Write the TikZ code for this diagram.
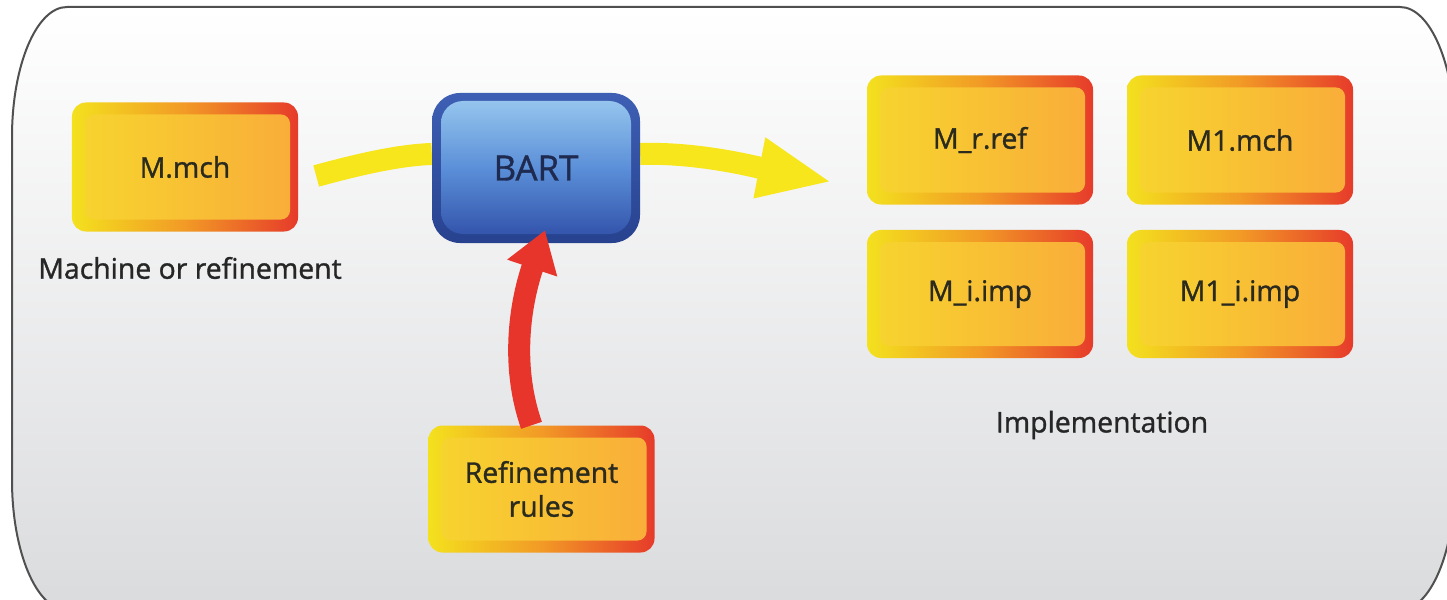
\documentclass[tikz,border=0pt]{standalone}
\usepackage{fontspec}
\setmainfont{Open Sans}
\newfontfamily\boxfont{Open Sans}[FakeBold=1.2]
\usetikzlibrary{arrows.meta,calc}
\definecolor{byel}{HTML}{F3E11E}
\definecolor{borg}{HTML}{F29A26}
\definecolor{bred}{HTML}{E63B2A}
\definecolor{iyel}{HTML}{F7D62E}
\definecolor{iorg}{HTML}{F9AC3A}
\definecolor{txt}{HTML}{2A2A1E}
\definecolor{bluetop}{HTML}{9CCBF0}
\definecolor{bluemid}{HTML}{5B8FD8}
\definecolor{bluebot}{HTML}{2E4DA6}
\definecolor{blueedge}{HTML}{3E5FB4}
\definecolor{bluedark}{HTML}{27428F}
\definecolor{barttxt}{HTML}{1E2A50}
\definecolor{yarrow}{HTML}{F7E61B}
\definecolor{rarrow}{HTML}{E8352C}
\definecolor{bgg}{HTML}{DADBDD}
\definecolor{frame}{HTML}{505050}
\definecolor{lbltxt}{HTML}{262626}
\pgfdeclarelayer{bg}
\pgfdeclarelayer{arr}
\pgfsetlayers{bg,arr,main}
\tikzset{
  filebox/.style={minimum width=226bp, minimum height=129bp, inner sep=0pt,
    rounded corners=14bp, left color=byel, right color=bred, middle color=borg,
    text=txt, font=\boxfont\fontsize{28.5}{36}\selectfont, align=center,
    path picture={\shade[rounded corners=9bp, left color=iyel, right color=iorg]
      ([shift={(13bp,-12bp)}]path picture bounding box.north west) rectangle
      ([shift={(-8bp,12bp)}]path picture bounding box.south east);}},
  bartbox/.style={minimum width=208bp, minimum height=150bp, inner sep=0pt,
    rounded corners=28bp, top color=blueedge, bottom color=bluedark,
    text=barttxt, font=\boxfont\fontsize{35}{40}\selectfont,
    path picture={\shade[rounded corners=22bp, top color=bluetop, bottom color=bluebot, middle color=bluemid]
      ([shift={(9bp,-8bp)}]path picture bounding box.north west) rectangle
      ([shift={(-9bp,9bp)}]path picture bounding box.south east);}},
  lbl/.style={text=lbltxt, font=\boxfont\fontsize{28.5}{34}\selectfont, inner sep=0pt},
  yband/.style={draw=yarrow, line width=22bp},
  rband/.style={draw=rarrow, line width=22bp},
}
\begin{document}
\begin{tikzpicture}[x=1bp,y=-1bp]
\useasboundingbox (0,0) rectangle (1447,600);
\begin{pgfonlayer}{bg}
\begin{scope}
\clip (0,0) rectangle (1447,600);
\path[fill=white] (0,0) rectangle (1447,600);
\path[top color=white, middle color=white, bottom color=bgg]
  (12,137) .. controls (12,65.2) and (36.6,7) .. (67,7) -- (1400,7)
  .. controls (1430.4,7) and (1455,65.2) .. (1455,137) -- (1455,480)
  .. controls (1455,551.8) and (1430.4,610) .. (1400,610) -- (67,610)
  .. controls (36.6,610) and (12,551.8) .. (12,480) -- cycle;
\draw[frame, line width=2bp]
  (12,137) .. controls (12,65.2) and (36.6,7) .. (67,7) -- (1400,7)
  .. controls (1430.4,7) and (1455,65.2) .. (1455,137) -- (1455,480)
  .. controls (1455,551.8) and (1430.4,610) .. (1400,610) -- (67,610)
  .. controls (36.6,610) and (12,551.8) .. (12,480) -- cycle;
\end{scope}
\end{pgfonlayer}

\node[filebox] (mmch) at (185,167) {M.mch};
\node[bartbox] (bart) at (536,168) {BART};
\node[filebox, minimum height=127bp] (ref) at (541.5,489) {Refinement\\[-2bp]rules};
\node[filebox] (mrref) at (980,140) {M\_r.ref};
\node[filebox] (m1mch) at (1240,140) {M1.mch};
\node[filebox, minimum height=128bp] (miimp) at (980,294) {M\_i.imp};
\node[filebox, minimum height=128bp] (m1iimp) at (1240,294) {M1\_i.imp};

\node[lbl] (mlab) at (190,268) {Machine or refinement};
\node[lbl] (impl) at (1102,425) {Implementation};

\coordinate (tgt) at (832,182);
\begin{pgfonlayer}{arr}
\draw[yband] ([shift={(18bp,-9bp)}]mmch.east) .. controls (360,164) and (400,155) .. ([yshift=14bp]bart.west);
\draw[yband, -{Triangle[width=56bp,length=74bp]}] ([yshift=14bp]bart.east) .. controls (700,152) and (760,168) .. (tgt);
\end{pgfonlayer}
\draw[rband, -{Triangle[width=50bp,length=40bp]}] ([xshift=-10bp]ref.north) .. controls (512,370) and (518,310) .. ([shift={(9bp,13bp)}]bart.south);
\end{tikzpicture}
\end{document}
